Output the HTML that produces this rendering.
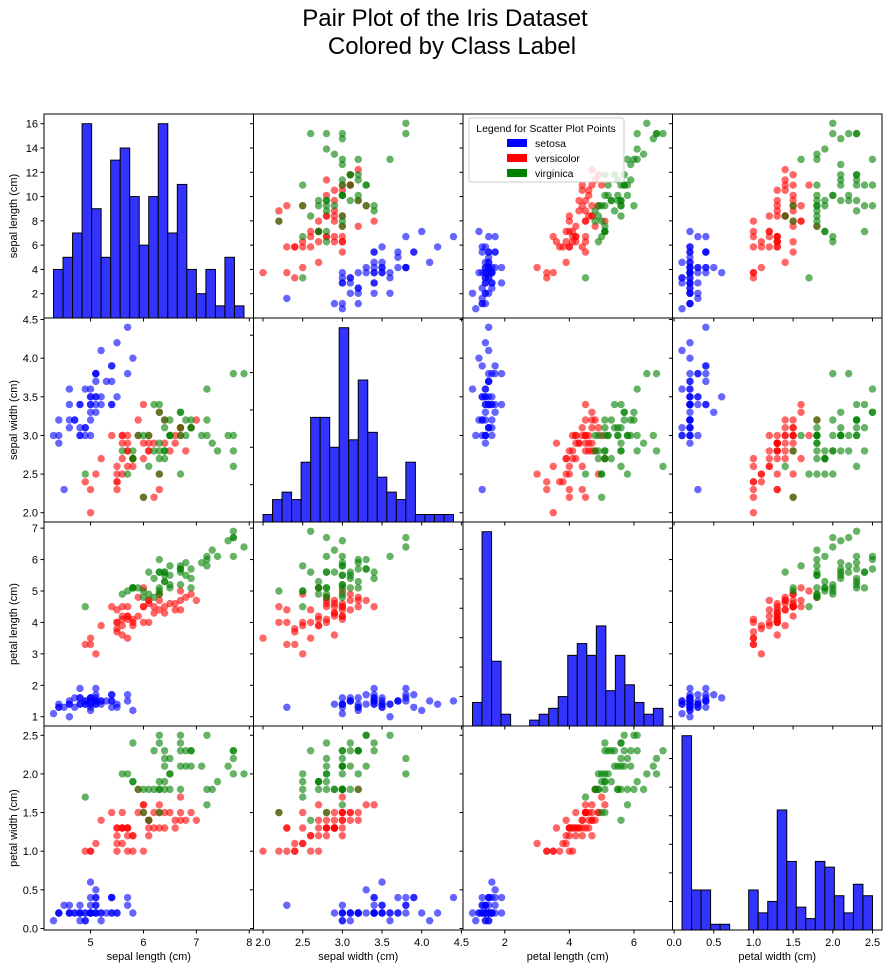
<!DOCTYPE html>
<html><head><meta charset="utf-8"><style>
body{margin:0;background:#fff;}
svg{font-family:"Liberation Sans","DejaVu Sans",sans-serif;}
</style></head><body>
<svg id="chart" width="891" height="968" xmlns="http://www.w3.org/2000/svg">
<text x="445" y="26" font-size="24" text-anchor="middle">Pair Plot of the Iris Dataset</text>
<text x="452" y="54" font-size="24" text-anchor="middle">Colored by Class Label</text>
</svg>
<script>
const features = ["sepal length (cm)","sepal width (cm)","petal length (cm)","petal width (cm)"];
const classNames = ["setosa","versicolor","virginica"];
const classColors = ["#0000ff","#ff0000","#008000"];
const setosa = [[5.1,3.5,1.4,0.2],[4.9,3.0,1.4,0.2],[4.7,3.2,1.3,0.2],[4.6,3.1,1.5,0.2],[5.0,3.6,1.4,0.2],[5.4,3.9,1.7,0.4],[4.6,3.4,1.4,0.3],[5.0,3.4,1.5,0.2],[4.4,2.9,1.4,0.2],[4.9,3.1,1.5,0.1],[5.4,3.7,1.5,0.2],[4.8,3.4,1.6,0.2],[4.8,3.0,1.4,0.1],[4.3,3.0,1.1,0.1],[5.8,4.0,1.2,0.2],[5.7,4.4,1.5,0.4],[5.4,3.9,1.3,0.4],[5.1,3.5,1.4,0.3],[5.7,3.8,1.7,0.3],[5.1,3.8,1.5,0.3],[5.4,3.4,1.7,0.2],[5.1,3.7,1.5,0.4],[4.6,3.6,1.0,0.2],[5.1,3.3,1.7,0.5],[4.8,3.4,1.9,0.2],[5.0,3.0,1.6,0.2],[5.0,3.4,1.6,0.4],[5.2,3.5,1.5,0.2],[5.2,3.4,1.4,0.2],[4.7,3.2,1.6,0.2],[4.8,3.1,1.6,0.2],[5.4,3.4,1.5,0.4],[5.2,4.1,1.5,0.1],[5.5,4.2,1.4,0.2],[4.9,3.1,1.5,0.2],[5.0,3.2,1.2,0.2],[5.5,3.5,1.3,0.2],[4.9,3.6,1.4,0.1],[4.4,3.0,1.3,0.2],[5.1,3.4,1.5,0.2],[5.0,3.5,1.3,0.3],[4.5,2.3,1.3,0.3],[4.4,3.2,1.3,0.2],[5.0,3.5,1.6,0.6],[5.1,3.8,1.9,0.4],[4.8,3.0,1.4,0.3],[5.1,3.8,1.6,0.2],[4.6,3.2,1.4,0.2],[5.3,3.7,1.5,0.2],[5.0,3.3,1.4,0.2]];
const versicolor = [[7.0,3.2,4.7,1.4],[6.4,3.2,4.5,1.5],[6.9,3.1,4.9,1.5],[5.5,2.3,4.0,1.3],[6.5,2.8,4.6,1.5],[5.7,2.8,4.5,1.3],[6.3,3.3,4.7,1.6],[4.9,2.4,3.3,1.0],[6.6,2.9,4.6,1.3],[5.2,2.7,3.9,1.4],[5.0,2.0,3.5,1.0],[5.9,3.0,4.2,1.5],[6.0,2.2,4.0,1.0],[6.1,2.9,4.7,1.4],[5.6,2.9,3.6,1.3],[6.7,3.1,4.4,1.4],[5.6,3.0,4.5,1.5],[5.8,2.7,4.1,1.0],[6.2,2.2,4.5,1.5],[5.6,2.5,3.9,1.1],[5.9,3.2,4.8,1.8],[6.1,2.8,4.0,1.3],[6.3,2.5,4.9,1.5],[6.1,2.8,4.7,1.2],[6.4,2.9,4.3,1.3],[6.6,3.0,4.4,1.4],[6.8,2.8,4.8,1.4],[6.7,3.0,5.0,1.7],[6.0,2.9,4.5,1.5],[5.7,2.6,3.5,1.0],[5.5,2.4,3.8,1.1],[5.5,2.4,3.7,1.0],[5.8,2.7,3.9,1.2],[6.0,2.7,5.1,1.6],[5.4,3.0,4.5,1.5],[6.0,3.4,4.5,1.6],[6.7,3.1,4.7,1.5],[6.3,2.3,4.4,1.3],[5.6,3.0,4.1,1.3],[5.5,2.5,4.0,1.3],[5.5,2.6,4.4,1.2],[6.1,3.0,4.6,1.4],[5.8,2.6,4.0,1.2],[5.0,2.3,3.3,1.0],[5.6,2.7,4.2,1.3],[5.7,3.0,4.2,1.2],[5.7,2.9,4.2,1.3],[6.2,2.9,4.3,1.3],[5.1,2.5,3.0,1.1],[5.7,2.8,4.1,1.3]];
const virginica = [[6.3,3.3,6.0,2.5],[5.8,2.7,5.1,1.9],[7.1,3.0,5.9,2.1],[6.3,2.9,5.6,1.8],[6.5,3.0,5.8,2.2],[7.6,3.0,6.6,2.1],[4.9,2.5,4.5,1.7],[7.3,2.9,6.3,1.8],[6.7,2.5,5.8,1.8],[7.2,3.6,6.1,2.5],[6.5,3.2,5.1,2.0],[6.4,2.7,5.3,1.9],[6.8,3.0,5.5,2.1],[5.7,2.5,5.0,2.0],[5.8,2.8,5.1,2.4],[6.4,3.2,5.3,2.3],[6.5,3.0,5.5,1.8],[7.7,3.8,6.7,2.2],[7.7,2.6,6.9,2.3],[6.0,2.2,5.0,1.5],[6.9,3.2,5.7,2.3],[5.6,2.8,4.9,2.0],[7.7,2.8,6.7,2.0],[6.3,2.7,4.9,1.8],[6.7,3.3,5.7,2.1],[7.2,3.2,6.0,1.8],[6.2,2.8,4.8,1.8],[6.1,3.0,4.9,1.8],[6.4,2.8,5.6,2.1],[7.2,3.0,5.8,1.6],[7.4,2.8,6.1,1.9],[7.9,3.8,6.4,2.0],[6.4,2.8,5.6,2.2],[6.3,2.8,5.1,1.5],[6.1,2.6,5.6,1.4],[7.7,3.0,6.1,2.3],[6.3,3.4,5.6,2.4],[6.4,3.1,5.5,1.8],[6.0,3.0,4.8,1.8],[6.9,3.1,5.4,2.1],[6.7,3.1,5.6,2.4],[6.9,3.1,5.1,2.3],[5.8,2.7,5.1,1.9],[6.8,3.2,5.9,2.3],[6.7,3.3,5.7,2.5],[6.7,3.0,5.2,2.3],[6.3,2.5,5.0,1.9],[6.5,3.0,5.2,2.0],[6.2,3.4,5.4,2.3],[5.9,3.0,5.1,1.8]];
const xTickLabels = [["5","6","7","8"],["2.0","2.5","3.0","3.5","4.0","4.5"],["2","4","6"],["0.0","0.5","1.0","1.5","2.0","2.5"]];
const yTickLabels = [["2","4","6","8","10","12","14","16"],["2.0","2.5","3.0","3.5","4.0","4.5"],["1","2","3","4","5","6","7"],["0.0","0.5","1.0","1.5","2.0","2.5"]];

const NS="http://www.w3.org/2000/svg";
const svg=document.getElementById('chart');
const X0=44,Y0=114,CW=209.5,RH=204,NB=20;
const groups=[setosa,versicolor,virginica];
const all=setosa.concat(versicolor,virginica);
function mk(tag,attrs,parent){const e=document.createElementNS(NS,tag);for(const k in attrs)e.setAttribute(k,attrs[k]);(parent||svg).appendChild(e);return e;}
const mins=[],maxs=[],lo=[],hi=[];
for(let f=0;f<4;f++){const v=all.map(r=>r[f]);mins[f]=Math.min(...v);maxs[f]=Math.max(...v);const d=maxs[f]-mins[f];lo[f]=mins[f]-0.05*d;hi[f]=maxs[f]+0.05*d;}
function sx(f,c,v){return X0+c*CW+(v-lo[f])/(hi[f]-lo[f])*CW;}
function sy(f,r,v){return Y0+(r+1)*RH-(v-lo[f])/(hi[f]-lo[f])*RH;}
function hist(f){const c=new Array(NB).fill(0);const w=(maxs[f]-mins[f])/NB;all.forEach(r=>{let i=Math.floor((r[f]-mins[f])/w+1e-9);if(i>=NB)i=NB-1;c[i]++;});return c;}
const counts=[0,1,2,3].map(hist);

for(let r=0;r<4;r++)for(let c=0;c<4;c++){
  const g=mk('g',{});
  
  
  const px=X0+c*CW,py=Y0+r*RH;
  if(r===c){
    const cnt=counts[c];const mx=Math.max(...cnt)*1.05;const w=(maxs[c]-mins[c])/NB;
    const hy=v=>py+RH-v/mx*RH;
    cnt.forEach((n,i)=>{const xa=sx(c,c,mins[c]+i*w),xb=sx(c,c,mins[c]+(i+1)*w);
      if(n>0){const b=mk('rect',{x:xa,y:hy(n),width:xb-xa,height:RH-(hy(n)-py),fill:'#3333ff',stroke:'#000','stroke-width':1},g);
      
      }});
    const step=r===0?2:(Math.max(...cnt)>20?5:2);
    if(r===0){yTickLabels[0].forEach(t=>{const yy=hy(+t);mk('line',{x1:px-3.5,x2:px,y1:yy,y2:yy,stroke:'#000'},g);const tx=mk('text',{x:px-6,y:yy+4,'font-size':11,'text-anchor':'end',fill:'#000'},g);tx.textContent=t;});}
    else{for(let v=step;v<=Math.max(...cnt);v+=step){const yy=hy(v);mk('line',{x1:px-3.5,x2:px,y1:yy,y2:yy,stroke:'#000'},g);}}
  } else {
    groups.forEach((gr,k)=>gr.forEach(p=>{const d=mk('circle',{cx:sx(c,c,p[c]),cy:sy(r,r,p[r]),r:3.7,fill:classColors[k],'fill-opacity':0.6},g);
      
      }));
    yTickLabels[r].forEach(t=>{if(r===0)return;const yy=sy(r,r,+t);mk('line',{x1:px-3.5,x2:px,y1:yy,y2:yy,stroke:'#000'},g);
      if(c===0){const tx=mk('text',{x:px-6,y:yy+4,'font-size':11,'text-anchor':'end'},g);tx.textContent=t;}});
    if(r===0&&c>0){yTickLabels[0].forEach(t=>{const cnt=counts[0];const mx=Math.max(...cnt)*1.05;const yy=py+RH-(+t)/mx*RH;mk('line',{x1:px-3.5,x2:px,y1:yy,y2:yy,stroke:'#000'},g);});}
  }
  xTickLabels[c].forEach(t=>{const xx=sx(c,c,+t);mk('line',{x1:xx,x2:xx,y1:py+RH,y2:py+RH+3.5,stroke:'#000'},g);
    if(r===3){const tx=mk('text',{x:xx,y:py+RH+16,'font-size':11,'text-anchor':'middle'},g);tx.textContent=t;}});
  mk('rect',{x:px,y:py,width:CW,height:RH,fill:'none',stroke:'#000','stroke-width':1},g);
}
features.forEach((f,i)=>{
  const xl=mk('text',{x:X0+i*CW+CW/2,y:960,'font-size':11,'text-anchor':'middle'});xl.textContent=f;
  
  
  const yc=Y0+i*RH+RH/2;
  const yl=mk('text',{x:17,y:yc,'font-size':11,'text-anchor':'middle',transform:'rotate(-90 17 '+yc+')'});yl.textContent=f;
  
  
});
const lg=mk('g',{});


mk('rect',{x:469,y:118,width:155,height:64,fill:'#fff','fill-opacity':0.8,stroke:'#ccc',rx:2},lg);
const lt=mk('text',{x:546,y:132,'font-size':10.5,'text-anchor':'middle'},lg);lt.textContent='Legend for Scatter Plot Points';
classNames.forEach((n,k)=>{const yy=139+k*15;
  const sw=mk('rect',{x:507,y:yy,width:20,height:8,fill:classColors[k]},lg);
  
  
  const t=mk('text',{x:535,y:yy+8,'font-size':10.5},lg);t.textContent=n;
  
  });
</script>
</body></html>
